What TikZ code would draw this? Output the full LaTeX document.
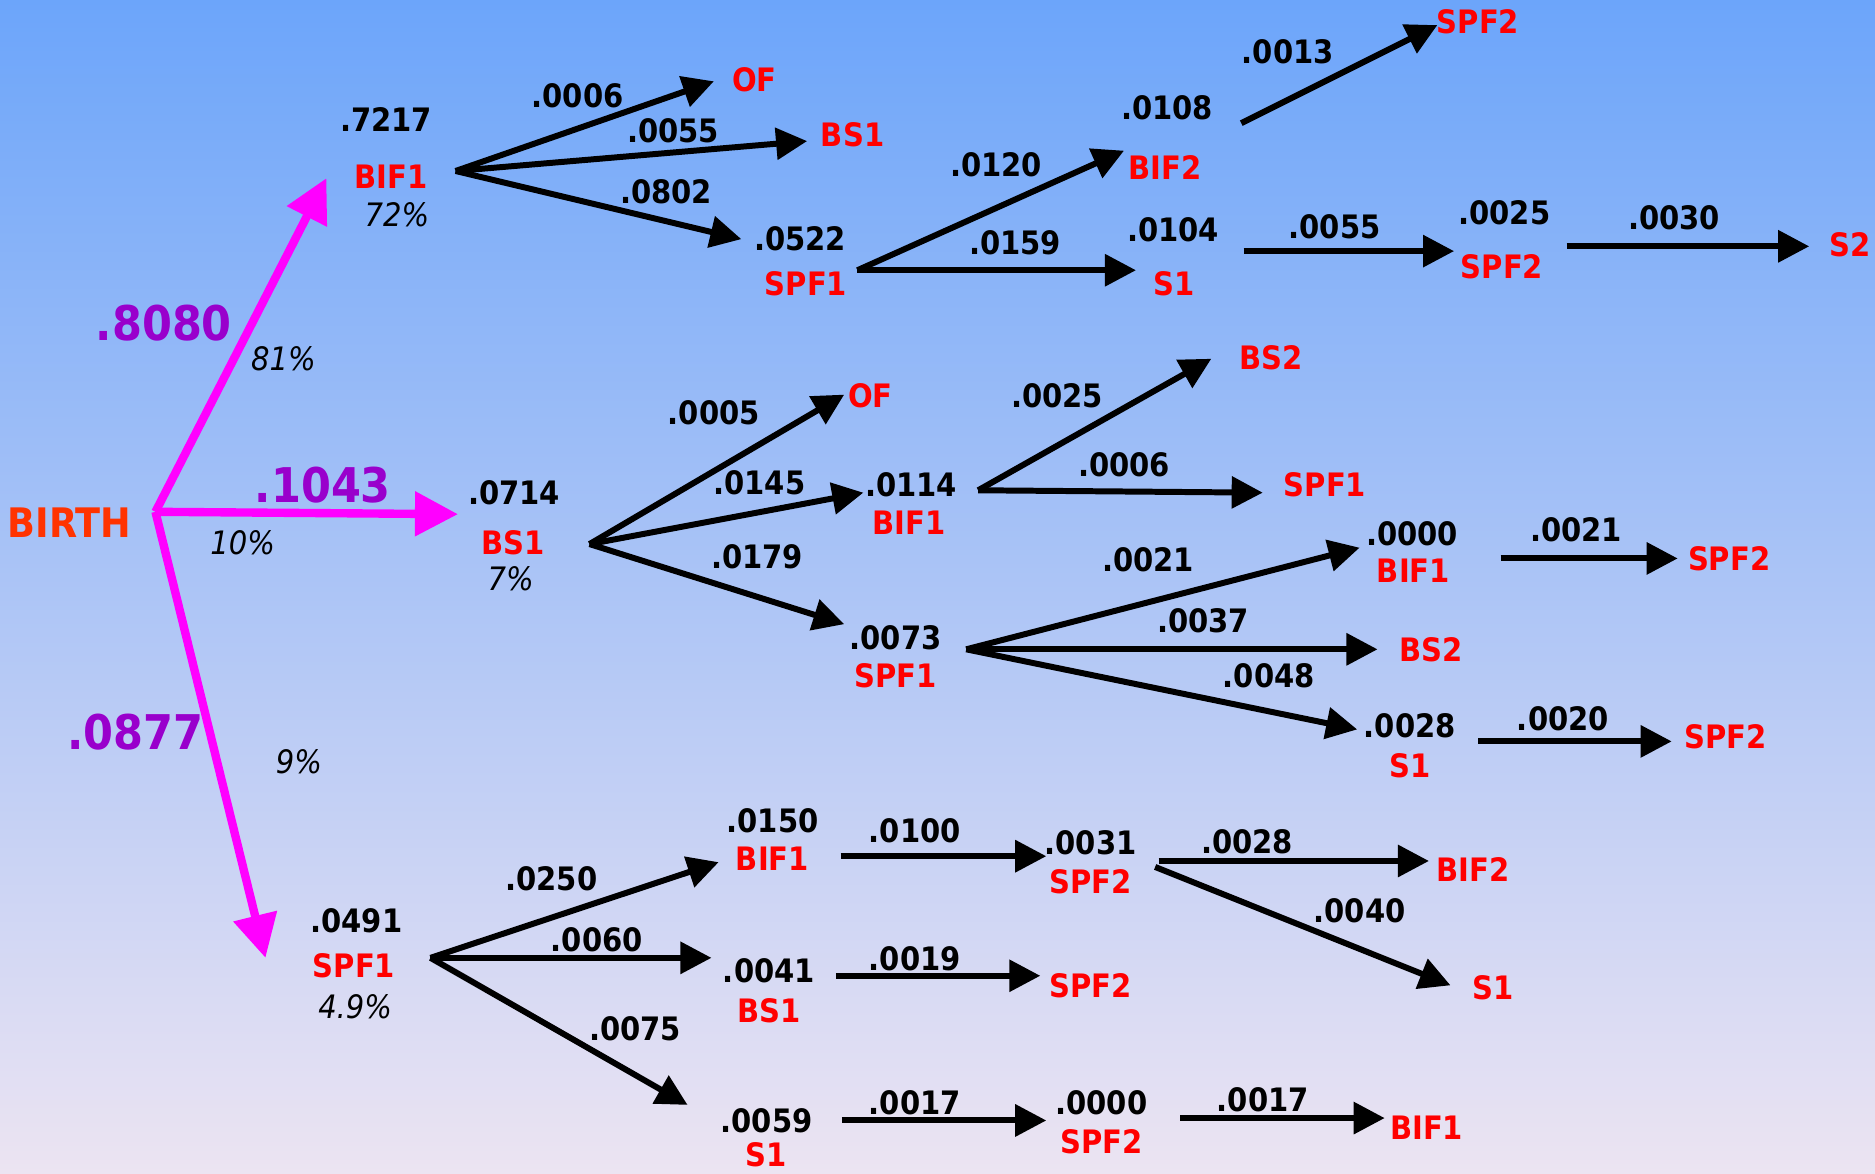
\documentclass[tikz,border=0pt]{standalone}
\usepackage{fontspec}
\setmainfont{DejaVu Sans Condensed}
\usetikzlibrary{arrows.meta}
\definecolor{bgtop}{RGB}{108,165,250}
\definecolor{bgbot}{RGB}{236,228,242}
\definecolor{labred}{RGB}{255,0,0}
\definecolor{birthred}{RGB}{255,51,0}
\definecolor{probpurple}{RGB}{153,0,204}
\definecolor{pinkarrow}{RGB}{255,0,255}
\tikzset{
  num/.style={font=\fontsize{27}{27}\selectfont\bfseries, text=black, inner sep=0pt},
  lab/.style={font=\fontsize{27}{27}\selectfont\bfseries, text=labred, inner sep=0pt},
  pct/.style={font=\fontsize{27}{27}\selectfont\itshape, text=black, inner sep=0pt},
  big/.style={font=\fontsize{40}{40}\selectfont\bfseries, text=probpurple, inner sep=0pt},
  start/.style={font=\fontsize{34}{34}\selectfont\bfseries, text=birthred, inner sep=0pt},
  flow/.style={line width=5pt, -{Triangle[length=26pt,width=26pt]}},
  main/.style={draw=pinkarrow, fill=pinkarrow, line width=7pt, -{Triangle[length=36pt,width=36pt]}},
}
\begin{document}
\begin{tikzpicture}[x=1pt,y=-1pt]
\useasboundingbox (0,0) rectangle (1568,981);
\shade[top color=bgtop, bottom color=bgbot] (0,0) rectangle (1568,981);

% ---------- root ----------
\node[start] (birth) at (58,437) {BIRTH};
\coordinate (j0) at (130,428);
\coordinate (tA) at (273,149);
\coordinate (tB) at (383,430);
\coordinate (tC) at (222,801);
\draw[main] (j0) -- (tA);
\draw[main] (j0) -- (tB);
\draw[main] (j0) -- (tC);
\node[big] (pA) at (137,270) {.8080};
\node[big] (pB) at (270,406) {.1043};
\node[big] (pC) at (113,612) {.0877};
\node[pct] (rA) at (237,300) {81\%};
\node[pct] (rB) at (203,454) {10\%};
\node[pct] (rC) at (250,637) {9\%};

% ---------- upper branch: BIF1 ----------
\node[num] (a0v) at (323,100) {.7217};
\node[lab] (a0) at (327,148) {BIF1};
\node[pct] (a0p) at (332,180) {72\%};
\coordinate (a0s) at (381,143);

\node[lab] (a1) at (631,67) {OF};
\coordinate (a1t) at (597,68);
\draw[flow] (a0s) -- (a1t);
\node[num] at (483,80) {.0006};

\node[lab] (a2) at (713,113) {BS1};
\coordinate (a2t) at (675,118);
\draw[flow] (a0s) -- (a2t);
\node[num] at (563,109) {.0055};

\node[num] (a3v) at (669,200) {.0522};
\node[lab] (a3) at (674,237) {SPF1};
\coordinate (a3t) at (620,200);
\draw[flow] (a0s) -- (a3t);
\node[num] at (557,160) {.0802};
\coordinate (a3s) at (717,226);

\node[num] (a4v) at (976,90) {.0108};
\node[lab] (a4) at (974,140) {BIF2};
\coordinate (a4t) at (940,126);
\draw[flow] (a3s) -- (a4t);
\node[num] at (833,138) {.0120};

\node[num] (a5v) at (981,192) {.0104};
\node[lab] (a5) at (982,237) {S1};
\coordinate (a5t) at (950,226);
\draw[flow] (a3s) -- (a5t);
\node[num] at (849,203) {.0159};

\node[lab] (a6) at (1236,18) {SPF2};
\coordinate (a6s) at (1038,103);
\coordinate (a6t) at (1202,21);
\draw[flow] (a6s) -- (a6t);
\node[num] at (1077,43) {.0013};

\node[num] (a7v) at (1258,178) {.0025};
\node[lab] (a7) at (1256,223) {SPF2};
\coordinate (a7s) at (1040,210);
\coordinate (a7t) at (1216,210);
\draw[flow] (a7s) -- (a7t);
\node[num] at (1116,190) {.0055};

\node[lab] (a8) at (1547,205) {S2};
\coordinate (a8s) at (1310,206);
\coordinate (a8t) at (1513,206);
\draw[flow] (a8s) -- (a8t);
\node[num] at (1400,182) {.0030};

% ---------- middle branch: BS1 ----------
\node[num] (b0v) at (430,412) {.0714};
\node[lab] (b0) at (429,454) {BS1};
\node[pct] (b0p) at (427,484) {7\%};
\coordinate (b0s) at (493,455);

\node[lab] (b1) at (728,331) {OF};
\coordinate (b1t) at (706,330);
\draw[flow] (b0s) -- (b1t);
\node[num] at (597,345) {.0005};

\node[num] (b2v) at (762,405) {.0114};
\node[lab] (b2) at (760,437) {BIF1};
\coordinate (b2t) at (722,412);
\draw[flow] (b0s) -- (b2t);
\node[num] at (635,404) {.0145};
\coordinate (b2s) at (818,410);

\node[num] (b3v) at (749,533) {.0073};
\node[lab] (b3) at (749,565) {SPF1};
\coordinate (b3t) at (706,522);
\draw[flow] (b0s) -- (b3t);
\node[num] at (633,466) {.0179};
\coordinate (b3s) at (808,543);

\node[lab] (b4) at (1063,299) {BS2};
\coordinate (b4t) at (1013,300);
\draw[flow] (b2s) -- (b4t);
\node[num] at (884,331) {.0025};

\node[lab] (b5) at (1108,405) {SPF1};
\coordinate (b5t) at (1056,412);
\draw[flow] (b2s) -- (b5t);
\node[num] at (940,389) {.0006};

\node[num] (b6v) at (1181,446) {.0000};
\node[lab] (b6) at (1182,477) {BIF1};
\coordinate (b6t) at (1137,458);
\draw[flow] (b3s) -- (b6t);
\node[num] at (960,468) {.0021};

\node[lab] (b7) at (1197,543) {BS2};
\coordinate (b7t) at (1152,543);
\draw[flow] (b3s) -- (b7t);
\node[num] at (1006,519) {.0037};

\node[num] (b8v) at (1179,607) {.0028};
\node[lab] (b8) at (1179,640) {S1};
\coordinate (b8t) at (1135,610);
\draw[flow] (b3s) -- (b8t);
\node[num] at (1061,565) {.0048};

\node[lab] (b9) at (1446,467) {SPF2};
\coordinate (b9s) at (1255,467);
\coordinate (b9t) at (1403,467);
\draw[flow] (b9s) -- (b9t);
\node[num] at (1318,443) {.0021};

\node[lab] (b10) at (1443,616) {SPF2};
\coordinate (b10s) at (1236,620);
\coordinate (b10t) at (1398,620);
\draw[flow] (b10s) -- (b10t);
\node[num] at (1307,601) {.0020};

% ---------- lower branch: SPF1 ----------
\node[num] (c0v) at (298,770) {.0491};
\node[lab] (c0) at (296,808) {SPF1};
\node[pct] (c0p) at (297,842) {4.9\%};
\coordinate (c0s) at (360,801);

\node[num] (c1v) at (646,686) {.0150};
\node[lab] (c1) at (646,718) {BIF1};
\coordinate (c1t) at (601,721);
\draw[flow] (c0s) -- (c1t);
\node[num] at (461,735) {.0250};

\node[num] (c2v) at (643,812) {.0041};
\node[lab] (c2) at (643,845) {BS1};
\coordinate (c2t) at (595,801);
\draw[flow] (c0s) -- (c2t);
\node[num] at (499,786) {.0060};

\node[num] (c3v) at (641,937) {.0059};
\node[lab] (c3) at (641,966) {S1};
\coordinate (c3t) at (575,924);
\draw[flow] (c0s) -- (c3t);
\node[num] at (531,860) {.0075};

\node[num] (c4v) at (912,705) {.0031};
\node[lab] (c4) at (912,737) {SPF2};
\coordinate (c4s) at (703,716);
\coordinate (c4t) at (875,716);
\draw[flow] (c4s) -- (c4t);
\node[num] at (765,695) {.0100};

\node[lab] (c5) at (1232,727) {BIF2};
\coordinate (c5s) at (969,720);
\coordinate (c5t) at (1195,720);
\draw[flow] (c5s) -- (c5t);
\node[num] at (1043,704) {.0028};

\node[lab] (c6) at (1249,826) {S1};
\coordinate (c6s) at (966,725);
\coordinate (c6t) at (1213,824);
\draw[flow] (c6s) -- (c6t);
\node[num] at (1137,762) {.0040};

\node[lab] (c7) at (912,824) {SPF2};
\coordinate (c7s) at (699,816);
\coordinate (c7t) at (870,816);
\draw[flow] (c7s) -- (c7t);
\node[num] at (765,802) {.0019};

\node[num] (c8v) at (921,922) {.0000};
\node[lab] (c8) at (921,955) {SPF2};
\coordinate (c8s) at (704,937);
\coordinate (c8t) at (875,937);
\draw[flow] (c8s) -- (c8t);
\node[num] at (765,922) {.0017};

\node[lab] (c9) at (1193,943) {BIF1};
\coordinate (c9s) at (987,935);
\coordinate (c9t) at (1158,935);
\draw[flow] (c9s) -- (c9t);
\node[num] at (1056,920) {.0017};
\end{tikzpicture}
\end{document}
